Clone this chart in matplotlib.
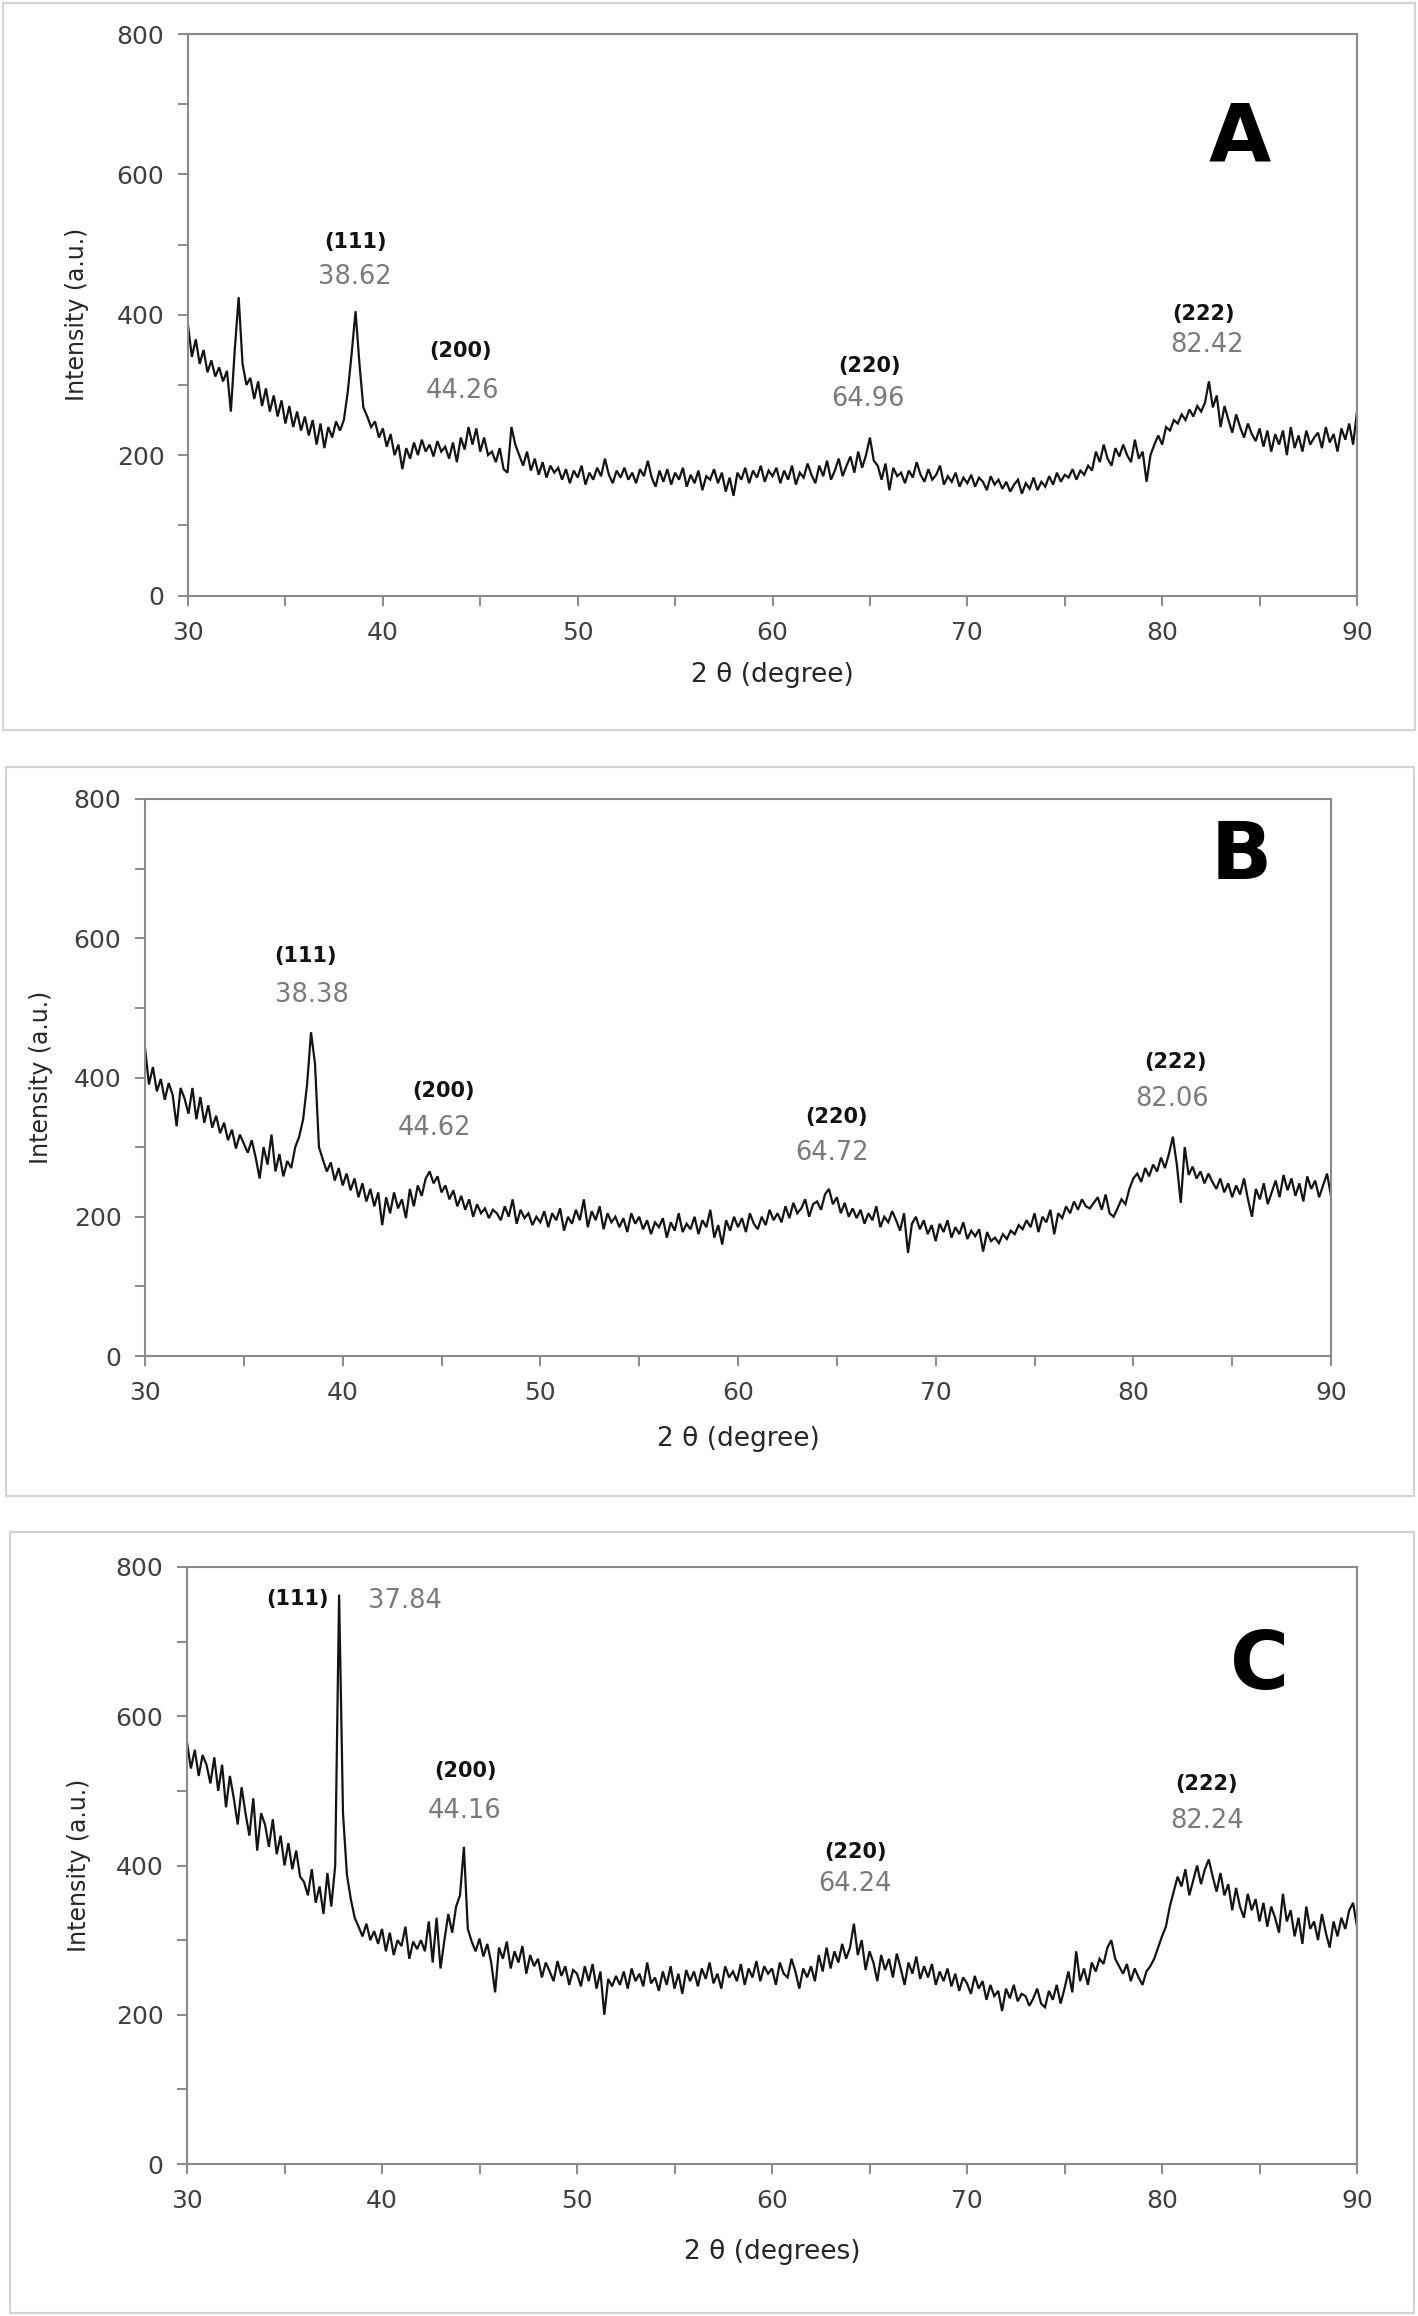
import numpy as np
import matplotlib
matplotlib.use("Agg")
import matplotlib.pyplot as plt
from matplotlib.patches import Rectangle
from matplotlib.ticker import MultipleLocator

plt.rcParams['font.family'] = ['DejaVu Sans']

# 2-theta grid: 30.0 .. 90.0 in steps of 0.2 (301 points); each row = 2 degrees
two_theta_start = 30.0
two_theta_step = 0.2

intensity_A = [
    385, 340, 365, 330, 350, 318, 335, 312, 325, 305,   # 30
    320, 262, 350, 425, 330, 300, 310, 280, 305, 270,   # 32
    295, 262, 285, 255, 278, 245, 270, 240, 262, 235,   # 34
    255, 228, 250, 215, 245, 210, 240, 225, 248, 235,   # 36
    250, 290, 345, 405, 330, 268, 255, 240, 248, 225,   # 38
    238, 212, 230, 200, 215, 180, 210, 195, 218, 200,   # 40
    222, 205, 215, 198, 220, 205, 212, 195, 218, 190,   # 42
    225, 208, 240, 215, 238, 205, 225, 200, 205, 190,   # 44
    210, 180, 175, 240, 215, 200, 185, 205, 178, 195,   # 46
    172, 190, 168, 185, 175, 182, 165, 180, 160, 178,   # 48
    168, 185, 158, 175, 165, 182, 170, 195, 172, 160,   # 50
    178, 168, 182, 165, 175, 160, 180, 170, 192, 168,   # 52
    155, 178, 162, 180, 158, 175, 165, 182, 155, 172,   # 54
    160, 178, 150, 170, 165, 180, 160, 175, 148, 168,   # 56
    142, 175, 165, 182, 160, 178, 168, 185, 162, 178,   # 58
    170, 182, 160, 178, 165, 185, 158, 175, 168, 188,   # 60
    172, 160, 185, 170, 192, 165, 178, 195, 170, 185,   # 62
    198, 175, 205, 182, 200, 225, 192, 185, 165, 188,   # 64
    150, 182, 170, 175, 160, 178, 168, 190, 172, 162,   # 66
    180, 165, 172, 185, 158, 170, 162, 175, 155, 168,   # 68
    160, 172, 155, 168, 162, 150, 170, 158, 165, 152,   # 70
    162, 148, 158, 165, 145, 160, 152, 168, 150, 162,   # 72
    155, 170, 158, 175, 162, 172, 168, 180, 165, 178,   # 74
    172, 185, 178, 205, 190, 215, 195, 185, 210, 198,   # 76
    215, 200, 190, 222, 195, 205, 162, 200, 215, 228,   # 78
    215, 240, 235, 250, 245, 258, 250, 265, 255, 270,   # 80
    262, 275, 305, 268, 285, 240, 270, 250, 232, 258,   # 82
    240, 225, 245, 230, 220, 238, 212, 235, 205, 230,   # 84
    215, 235, 200, 240, 210, 228, 205, 235, 215, 225,   # 86
    232, 210, 240, 218, 230, 205, 238, 222, 245, 215,   # 88
    262,                                                # 90
]

intensity_B = [
    443, 390, 415, 380, 398, 368, 392, 375, 330, 385,   # 30
    370, 348, 385, 340, 372, 335, 360, 328, 345, 320,   # 32
    335, 310, 325, 298, 318, 305, 292, 310, 285, 255,   # 34
    300, 275, 318, 265, 290, 258, 280, 270, 300, 315,   # 36
    340, 390, 465, 420, 300, 282, 265, 278, 252, 270,   # 38
    245, 262, 238, 255, 228, 248, 222, 240, 215, 235,   # 40
    188, 228, 205, 235, 212, 225, 198, 240, 215, 245,   # 42
    230, 255, 265, 248, 258, 235, 245, 225, 238, 215,   # 44
    230, 210, 225, 200, 218, 205, 212, 198, 210, 205,   # 46
    195, 215, 200, 225, 190, 210, 198, 205, 188, 200,   # 48
    192, 208, 185, 205, 195, 212, 180, 200, 190, 210,   # 50
    195, 225, 185, 208, 195, 215, 182, 205, 192, 200,   # 52
    185, 198, 178, 205, 190, 200, 182, 195, 175, 192,   # 54
    185, 198, 170, 192, 180, 205, 178, 190, 182, 200,   # 56
    175, 195, 185, 210, 170, 188, 160, 195, 180, 200,   # 58
    185, 198, 178, 205, 190, 182, 200, 188, 210, 195,   # 60
    205, 192, 215, 198, 220, 205, 212, 225, 200, 218,   # 62
    222, 210, 232, 240, 218, 228, 205, 220, 200, 212,   # 64
    198, 210, 190, 205, 195, 215, 185, 200, 192, 208,   # 66
    195, 180, 205, 148, 190, 200, 182, 195, 175, 188,   # 68
    165, 190, 178, 195, 170, 185, 175, 192, 168, 180,   # 70
    172, 182, 150, 178, 165, 170, 162, 175, 168, 180,   # 72
    175, 188, 182, 195, 185, 205, 178, 200, 192, 210,   # 74
    175, 205, 198, 215, 205, 222, 210, 225, 215, 212,   # 76
    220, 228, 210, 232, 205, 200, 212, 225, 218, 240,   # 78
    255, 262, 250, 270, 258, 275, 265, 285, 270, 290,   # 80
    315, 275, 220, 300, 260, 272, 255, 265, 248, 262,   # 82
    250, 240, 255, 235, 248, 228, 245, 232, 255, 225,   # 84
    200, 240, 225, 248, 218, 235, 252, 228, 260, 238,   # 86
    255, 230, 248, 222, 258, 240, 252, 228, 245, 262,   # 88
    230,                                                # 90
]

intensity_C = [
    565, 530, 555, 520, 548, 535, 510, 545, 500, 535,   # 30
    478, 520, 490, 455, 505, 470, 440, 490, 420, 470,   # 32
    455, 425, 462, 415, 440, 400, 430, 395, 420, 385,   # 34
    378, 360, 395, 350, 372, 335, 390, 345, 400, 763,   # 36
    470, 388, 355, 330, 318, 305, 322, 300, 312, 295,   # 38
    315, 285, 310, 280, 300, 292, 318, 275, 298, 288,   # 40
    300, 285, 325, 270, 330, 262, 300, 335, 310, 345,   # 42
    360, 425, 315, 298, 285, 302, 278, 295, 270, 230,   # 44
    290, 275, 298, 262, 285, 270, 292, 255, 280, 265,   # 46
    275, 250, 270, 258, 245, 272, 252, 265, 240, 260,   # 48
    255, 238, 265, 245, 268, 235, 258, 200, 248, 238,   # 50
    252, 240, 258, 235, 262, 245, 255, 238, 270, 242,   # 52
    250, 232, 258, 240, 265, 235, 255, 228, 260, 245,   # 54
    258, 238, 262, 248, 270, 242, 255, 235, 265, 250,   # 56
    258, 245, 268, 240, 262, 250, 272, 245, 265, 255,   # 58
    262, 240, 270, 255, 250, 275, 258, 235, 262, 250,   # 60
    265, 245, 280, 258, 290, 262, 285, 270, 295, 275,   # 62
    290, 322, 280, 300, 260, 285, 270, 245, 280, 260,   # 64
    275, 250, 282, 262, 240, 270, 255, 278, 248, 265,   # 66
    250, 268, 240, 258, 245, 262, 238, 255, 232, 250,   # 68
    242, 228, 252, 235, 245, 220, 240, 225, 232, 205,   # 70
    235, 222, 240, 218, 228, 225, 212, 222, 235, 215,   # 72
    210, 232, 220, 240, 215, 235, 258, 230, 285, 245,   # 74
    262, 240, 270, 258, 275, 268, 290, 300, 275, 265,   # 76
    255, 268, 245, 262, 250, 240, 258, 265, 275, 290,   # 78
    305, 318, 345, 365, 385, 372, 395, 360, 380, 400,   # 80
    375, 395, 408, 385, 365, 390, 360, 375, 340, 370,   # 82
    345, 330, 362, 340, 355, 325, 350, 318, 345, 330,   # 84
    310, 362, 325, 340, 305, 330, 295, 345, 315, 325,   # 86
    300, 335, 310, 290, 325, 305, 330, 315, 340, 350,   # 88
    318,                                                # 90
]

# annotations: (hkl), peak position text
hkl_labels = ["(111)", "(200)", "(220)", "(222)"]
peaks_A = ["38.62", "44.26", "64.96", "82.42"]
peaks_B = ["38.38", "44.62", "64.72", "82.06"]
peaks_C = ["37.84", "44.16", "64.24", "82.24"]
panel_letters = ["A", "B", "C"]
x_labels = ["2 θ (degree)", "2 θ (degree)", "2 θ (degrees)"]
y_label = "Intensity (a.u.)"

# label anchor positions in data coordinates (2θ, intensity)
hkl_pos_A = [(38.62, 504), (44.0, 349), (65.0, 327), (82.14, 401)]
num_pos_A = [(38.57, 454), (44.1, 292), (64.9, 280), (82.3, 357)]
hkl_pos_B = [(38.13, 575), (45.1, 380), (64.98, 343), (82.15, 422)]
num_pos_B = [(38.45, 518), (44.67, 327), (64.75, 292), (81.97, 369)]
hkl_pos_C = [(35.67, 757), (44.29, 526), (64.29, 418), (82.26, 509)]
num_pos_C = [(41.2, 754), (44.22, 473), (64.25, 375), (82.32, 459)]
letter_pos = [(84.0, 650), (85.44, 716), (85.0, 666)]

W, H = 1418, 2316
fig = plt.figure(figsize=(W / 100, H / 100), dpi=100)
fig.patch.set_facecolor('white')

# axes rectangles in pixels: left, right, top, bottom
ax_px = [(188, 1357, 34, 595.5), (145, 1331, 799, 1356), (187, 1357, 1567, 2164)]
# outer panel frames in pixels
frame_px = [(3, 1415, 3, 730), (6, 1414, 767, 1496), (10, 1414, 1532, 2313)]
xlabel_off = [67, 70, 75]
ylabel_off = [99, 92, 96]

series = [intensity_A, intensity_B, intensity_C]
hkl_pos = [hkl_pos_A, hkl_pos_B, hkl_pos_C]
num_pos = [num_pos_A, num_pos_B, num_pos_C]
num_txt = [peaks_A, peaks_B, peaks_C]

spine_col = '#8a8a8a'
tick_col = '#404040'

for i in range(3):
    l, r, t, b = frame_px[i]
    fig.patches.append(Rectangle((l / W, 1 - b / H), (r - l) / W, (b - t) / H,
                                 transform=fig.transFigure, fill=False,
                                 edgecolor='#d4d4d4', linewidth=1.6, zorder=0))
    l, r, t, b = ax_px[i]
    ax = fig.add_axes([l / W, 1 - b / H, (r - l) / W, (b - t) / H])
    y = np.array(series[i], dtype=float)
    x = two_theta_start + two_theta_step * np.arange(len(y))
    ax.plot(x, y, color='#141414', linewidth=1.6, solid_joinstyle='miter')
    ax.set_xlim(30, 90)
    ax.set_ylim(0, 800)
    ax.xaxis.set_major_locator(MultipleLocator(10))
    ax.xaxis.set_minor_locator(MultipleLocator(5))
    ax.yaxis.set_major_locator(MultipleLocator(200))
    ax.yaxis.set_minor_locator(MultipleLocator(100))
    for s in ax.spines.values():
        s.set_color(spine_col)
        s.set_linewidth(1.5)
    ax.tick_params(which='both', direction='out', length=7, width=1.4,
                   color=spine_col, labelcolor=tick_col, labelsize=18, pad=10)
    ax.tick_params(axis='x', which='major', pad=11)
    ax.set_xlabel(x_labels[i], fontsize=19, color='#262626')
    ax.set_ylabel(y_label, fontsize=17, color='#262626')
    axh = b - t
    axw = r - l
    ax.xaxis.set_label_coords(0.5, -xlabel_off[i] / axh)
    ax.yaxis.set_label_coords(-ylabel_off[i] / axw, 0.5)
    for k in range(4):
        hx, hy = hkl_pos[i][k]
        ax.text(hx, hy, hkl_labels[k], fontsize=15, fontweight='bold',
                color='#121212', ha='center', va='center')
        nx, ny = num_pos[i][k]
        ax.text(nx, ny, num_txt[i][k], fontsize=18.5, color='#7a7a7a',
                ha='center', va='center')
    lx, ly = letter_pos[i]
    ax.text(lx, ly, panel_letters[i], fontsize=58, fontweight='heavy',
            color='black', ha='center', va='center')

fig.savefig('out.png', dpi=100, facecolor='white')
